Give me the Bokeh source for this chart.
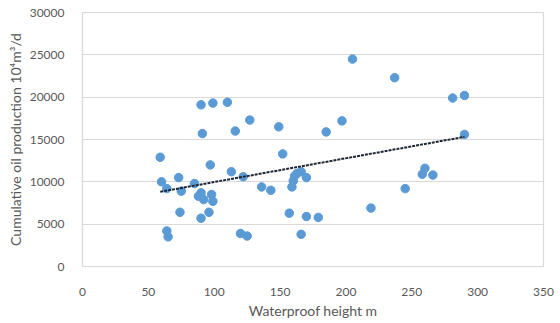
import numpy as np
from bokeh.plotting import figure
from bokeh.models import Range1d, FixedTicker, ColumnDataSource
from bokeh.embed import file_html
from bokeh.resources import INLINE

height_m = [59, 60, 64, 73, 75, 74, 64, 65, 85, 88, 90, 92, 98, 99, 96, 90,
            90, 99, 110, 91, 97, 113, 116, 122, 127, 120, 125, 136, 143, 149,
            152, 157, 159, 160, 161, 163, 166, 170, 166, 170, 179, 185, 197,
            205, 219, 237, 245, 258, 260, 266, 281, 290, 290]
production = [12900, 10000, 9200, 10500, 8900, 6400, 4200, 3500, 9800, 8300,
              8700, 7900, 8500, 7700, 6400, 5700, 19100, 19300, 19400, 15700,
              12000, 11200, 16000, 10600, 17300, 3900, 3600, 9400, 9000, 16500,
              13300, 6300, 9400, 10100, 10700, 11000, 11200, 10500, 3800, 5900,
              5800, 15900, 17200, 24500, 6900, 22300, 9200, 10900, 11600, 10800,
              19900, 20200, 15600]
x_ticks = [0, 50, 100, 150, 200, 250, 300, 350]
y_ticks = [0, 5000, 10000, 15000, 20000, 25000, 30000]

slope, intercept = np.polyfit(height_m, production, 1)
trend_x = [min(height_m), max(height_m)]
trend_y = [slope * v + intercept for v in trend_x]

FONT = "Lato"
GRAY = "#595959"
GRID = "#d9d9d9"

p = figure(width=560, height=323, output_backend="svg", toolbar_location=None,
           x_range=Range1d(0, 350), y_range=Range1d(0, 30000),
           min_border_left=82, min_border_right=17, min_border_top=12,
           min_border_bottom=57)

p.scatter(x="x", y="y", source=ColumnDataSource(dict(x=height_m, y=production)),
          size=8.5, fill_color="#5b9bd5", line_color="#5b9bd5")
p.line(trend_x, trend_y, line_color="#1c2733", line_width=2, line_dash="3 1")

p.xaxis.ticker = FixedTicker(ticks=x_ticks)
p.yaxis.ticker = FixedTicker(ticks=y_ticks)
p.xgrid.visible = False
p.ygrid.grid_line_color = GRID
p.ygrid.grid_line_width = 1.2
p.outline_line_color = GRID
p.outline_line_width = 1.2

for ax in (p.xaxis, p.yaxis):
    ax.axis_line_color = GRID
    ax.axis_line_width = 1.2
    ax.major_tick_line_color = None
    ax.minor_tick_line_color = None
    ax.major_label_text_font = FONT
    ax.major_label_text_font_size = "12px"
    ax.major_label_text_color = GRAY
    ax.axis_label_text_font = FONT
    ax.axis_label_text_font_size = "14px"
    ax.axis_label_text_color = GRAY
    ax.axis_label_text_font_style = "normal"

p.xaxis.axis_label = "Waterproof height m"
p.yaxis.axis_label = "Cumulative oil production 10\u2074m\u00b3/d"
p.xaxis.major_label_standoff = 15
p.yaxis.major_label_standoff = 12
p.xaxis.axis_label_standoff = 3
p.yaxis.axis_label_standoff = 3

open("out.html", "w").write(file_html(p, INLINE))
